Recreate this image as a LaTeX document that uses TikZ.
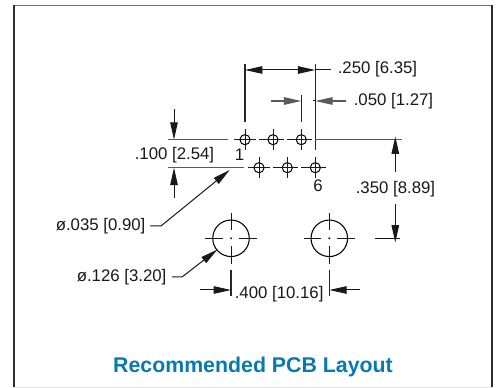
\documentclass[tikz,border=0pt]{standalone}
\usepackage{fontspec}
\setmainfont{Liberation Sans}
\usetikzlibrary{arrows.meta}
\definecolor{titleblue}{RGB}{8,122,176}
\definecolor{framegray}{RGB}{45,45,45}
\definecolor{extgray}{RGB}{90,90,90}
\tikzset{
  dimline/.style={line width=0.75pt,draw=black!90},
  extline/.style={line width=1pt,draw=black!85},
  grayext/.style={line width=1pt,draw=extgray},
  tip/.style={-{Triangle[length=13pt,width=5.6pt]}},
  lbl/.style={font=\fontsize{12.6pt}{14pt}\selectfont,inner sep=0pt,anchor=base west,text=black!90},
  padc/.style={circle,draw=black,line width=0.75pt,minimum size=7.6pt,inner sep=0pt},
  bigc/.style={circle,draw=black,line width=0.8pt,minimum size=27.4pt,inner sep=0pt},
  padx/.style={line width=0.75pt,draw=black!90}
}
\newcommand{\padmark}[2]{%
  \node[padc] (#1) at (#2) {};
  \draw[padx] ([yshift=8pt]#1.center) -- ([yshift=-8pt]#1.center);
  \draw[padx] ([xshift=-8.2pt]#1.center) -- ([xshift=8.2pt]#1.center);
}
\newcommand{\bigmark}[2]{%
  \node[bigc] (#1) at (#2) {};
  \draw[padx] ([yshift=19.3pt]#1.center) -- ([yshift=6pt]#1.center);
  \draw[padx] ([yshift=-19.3pt]#1.center) -- ([yshift=-6pt]#1.center);
  \draw[padx] ([xshift=-19.3pt]#1.center) -- ([xshift=-6pt]#1.center);
  \draw[padx] ([xshift=19.3pt]#1.center) -- ([xshift=6pt]#1.center);
  \fill[black!85] (#1.center) circle (0.9pt);
}
\begin{document}
\begin{tikzpicture}[x=0.75pt,y=-0.75pt]
\useasboundingbox (0,0) rectangle (496,388);
\fill[white] (0,0) rectangle (496,388);
\draw[line width=1.1pt,draw=gray!90!black] (13.5,5.3) -- (492,5.3);
\draw[line width=1.1pt,draw=framegray] (14,5) -- (14,387) (492,5) -- (492,387);
\draw[line width=0.6pt,draw=black!10] (14,387.3) -- (492,387.3);
% pads
\padmark{a1}{245,139.7}
\padmark{a2}{273,139.7}
\padmark{a3}{301.3,139.7}
\padmark{b1}{259,167.7}
\padmark{b2}{287.3,167.7}
\padmark{b3}{315.3,167.7}
\draw[padx] (a1.center) ++(14,0) -- ++(3,0);
\draw[padx] (a2.center) ++(14,0) -- ++(3,0);
\draw[padx] (b1.center) ++(14,0) -- ++(3,0);
\draw[padx] (b2.center) ++(14,0) -- ++(3,0);
\bigmark{h1}{231,238.3}
\bigmark{h2}{329.3,238.3}
% coordinates
\coordinate (e250l) at (245,64);
\coordinate (e250lb) at (245,122);
\coordinate (e250r) at (315.3,64);
\coordinate (e250rb) at (315.3,150);
\coordinate (d250l) at (245,70);
\coordinate (d250r) at (315.3,70);
\coordinate (d250m) at (280,70);
\coordinate (d250e) at (331,70);
\draw[extline] (e250l) -- (e250lb);
\draw[extline] (e250r) -- (e250rb);
\draw[dimline,tip] (d250m) -- (d250l);
\draw[dimline,tip] (d250m) -- (d250r);
\draw[dimline] (d250r) -- (d250e);
% .050
\coordinate (e50t) at (301.3,95);
\coordinate (e50b) at (301.3,122);
\coordinate (d50a) at (271,101);
\coordinate (d50b) at (301.3,101);
\coordinate (d50c) at (346,101);
\coordinate (d50d) at (315.3,101);
\coordinate (d50s) at (312.5,101);
\draw[extline] (e50t) -- (e50b);
\draw[grayext,tip] (d50a) -- (d50b);
\draw[grayext,tip] (d50c) -- (d50d);
\draw[dimline] (d50d) -- (d50s);
% .350
\coordinate (e350a) at (315.3,139.7);
\coordinate (e350b) at (401.5,139.7);
\coordinate (e350c) at (375.3,238.3);
\coordinate (e350d) at (400,238.3);
\coordinate (d350a) at (395.3,172.5);
\coordinate (d350b) at (395.3,136.5);
\coordinate (d350c) at (395.3,204);
\coordinate (d350d) at (395.3,242.5);
\draw[grayext] (e350a) -- (e350b);
\draw[dimline] (e350c) -- (e350d);
\draw[dimline,tip] (d350a) -- (d350b);
\draw[dimline,tip] (d350c) -- (d350d);
% .100
\coordinate (e100a) at (168,139.7);
\coordinate (e100b) at (228,139.7);
\coordinate (e100c) at (168,167.7);
\coordinate (e100d) at (244,167.7);
\coordinate (d100a) at (174,109.5);
\coordinate (d100b) at (174,139.7);
\coordinate (d100c) at (174,198);
\coordinate (d100d) at (174,167.7);
\draw[grayext] (e100a) -- (e100b);
\draw[grayext] (e100c) -- (e100d);
\draw[dimline,tip] (d100a) -- (d100b);
\draw[dimline,tip] (d100c) -- (d100d);
% .400
\coordinate (e400a) at (231,270);
\coordinate (e400b) at (231,296.5);
\coordinate (e400c) at (329.3,270);
\coordinate (e400d) at (329.3,296.5);
\coordinate (d400a) at (200,290);
\coordinate (d400b) at (231,290);
\coordinate (d400c) at (360,290);
\coordinate (d400d) at (329.3,290);
\draw[extline] (e400a) -- (e400b);
\draw[extline] (e400c) -- (e400d);
\draw[dimline,tip] (d400a) -- (d400b);
\draw[dimline,tip] (d400c) -- (d400d);
% leaders
\coordinate (l1a) at (150,226);
\coordinate (l1b) at (161,226);
\coordinate (l1c) at (229.7,170);
\coordinate (l2a) at (172,277);
\coordinate (l2b) at (182,277);
\coordinate (l2c) at (217.5,249.5);
\draw[dimline,tip] (l1a) -- (l1b) -- (l1c);
\draw[dimline,tip] (l2a) -- (l2b) -- (l2c);
% labels
\node[lbl] (t250) at (337.5,74) {.250 [6.35]};
\node[lbl] (t050) at (353.5,106) {.050 [1.27]};
\node[lbl] (t350) at (355.5,193.3) {.350 [8.89]};
\node[lbl] (t100) at (134.5,160) {.100 [2.54]};
\node[lbl] (t400) at (234.5,298.5) {.400 [10.16]};
\node[lbl] (t035) at (55.5,230.5) {ø.035 [0.90]};
\node[lbl] (t126) at (76.5,281.5) {ø.126 [3.20]};
\node[lbl] (t1) at (234.5,160.5) {1};
\node[lbl] (t6) at (313,192) {6};
\node[inner sep=0pt,anchor=base,text=titleblue,font=\fontsize{16pt}{18pt}\selectfont\bfseries] (title) at (253,372.3) {Recommended PCB Layout};
\end{tikzpicture}
\end{document}
